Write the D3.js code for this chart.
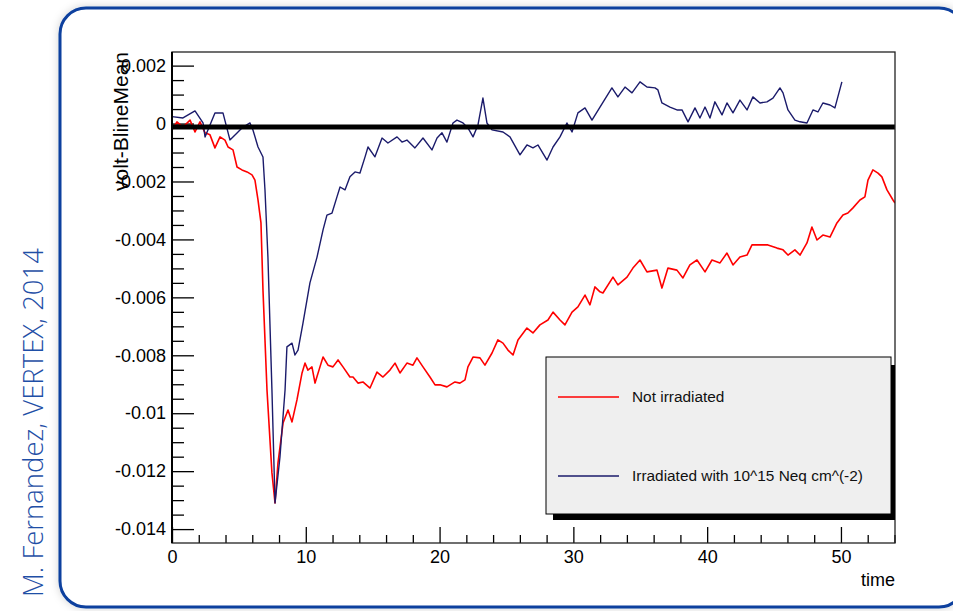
<!DOCTYPE html>
<html>
<head>
<meta charset="utf-8">
<script src="https://cdn.jsdelivr.net/npm/d3@7"></script>
<style>
  body { margin: 0; background: #fff; }
  svg { display: block; }
  text { font-family: "Liberation Sans", Arial, sans-serif; }
</style>
</head>
<body>
<div id="viz"></div>
<script>
// irradiated sensor (blue): time / volt-BlineMean
const irrTime = [0, 0.82, 1.72, 2.32, 2.47, 3.21, 3.81, 4.33, 4.86, 5.23,
  5.83, 6.05, 6.43, 6.80, 6.95, 7.17, 7.47, 7.70, 8.07, 8.45,
  8.59, 8.97, 9.19, 9.42, 9.79, 10.31, 10.84, 11.29, 11.58, 11.96,
  12.33, 12.56, 12.93, 13.30, 13.68, 14.05, 14.43, 14.65, 15.17, 15.70,
  16.14, 16.82, 17.19, 17.56, 18.16, 18.76, 19.43, 19.81, 20.18, 20.55,
  21.00, 21.30, 21.75, 22.12, 22.50, 22.87, 23.24, 23.54, 23.92, 24.74,
  25.26, 26.01, 26.53, 26.98, 27.35, 28.03, 28.48, 29.00, 29.52, 29.90,
  30.34, 30.87, 31.39, 31.99, 32.88, 33.33, 33.86, 34.38, 34.98, 35.50,
  36.10, 36.32, 36.62, 37.22, 37.74, 38.12, 38.57, 39.09, 39.46, 39.84,
  40.21, 40.58, 41.11, 41.48, 41.93, 42.45, 42.98, 43.42, 43.95, 44.47,
  44.92, 45.44, 45.67, 46.04, 46.56, 46.94, 47.46, 47.91, 48.28, 48.65,
  49.18, 49.55, 50.07];
const irrVolt = [0.000238, 0.000193, 0.000435, 0.000021, -0.000463, 0.000366, 0.000366, -0.000566, -0.000325, -0.000152,
  0.000021, -0.000221, -0.000808, -0.001153, -0.002293, -0.004607, -0.009199, -0.01310, -0.01151, -0.00920,
  -0.00771, -0.00758, -0.00799, -0.00782, -0.00689, -0.00550, -0.00461, -0.00367, -0.00316, -0.00309,
  -0.00253, -0.00219, -0.00229, -0.00184, -0.00167, -0.00171, -0.00115, -0.00081, -0.00115, -0.00050,
  -0.00067, -0.00046, -0.00064, -0.00057, -0.00084, -0.00050, -0.00091, -0.00050, -0.00032, -0.00064,
  0.00002, 0.00012, 0.00002, -0.00015, -0.00046, -0.00005, 0.00088, 0.00002, -0.00022, -0.00029,
  -0.00046, -0.00108, -0.00074, -0.00084, -0.00074, -0.00126, -0.00081, -0.00046, 0.00002, -0.00029,
  0.00037, 0.00054, 0.00012, 0.00057, 0.00123, 0.00092, 0.00126, 0.00106, 0.00144, 0.00126,
  0.00123, 0.00116, 0.00071, 0.00057, 0.00047, 0.00047, 0.00006, 0.00054, 0.00019, 0.00057,
  0.00019, 0.00075, 0.00030, 0.00071, 0.00037, 0.00081, 0.00047, 0.00092, 0.00071, 0.00075,
  0.00088, 0.00123, 0.00106, 0.00047, 0.00012, 0.00006, 0.00002, 0.00047, 0.00040, 0.00071,
  0.00064, 0.00054, 0.00144];

// not irradiated sensor (red)
const notTime = [0, 0.37, 0.82, 1.35, 1.72, 2.09, 2.47, 2.84, 3.21, 3.59,
  3.96, 4.19, 4.56, 4.86, 5.23, 5.61, 5.98, 6.20, 6.43, 6.65,
  6.80, 7.10, 7.47, 7.70, 7.92, 8.30, 8.67, 8.97, 9.34, 9.72,
  9.94, 10.16, 10.46, 10.69, 11.06, 11.29, 11.66, 12.03, 12.41, 12.78,
  13.30, 13.53, 13.90, 14.27, 14.80, 15.32, 15.77, 16.29, 16.67, 17.04,
  17.56, 18.01, 18.31, 18.76, 19.28, 19.66, 20.03, 20.55, 21.15, 21.52,
  21.90, 22.12, 22.50, 23.02, 23.39, 23.92, 24.36, 24.74, 25.11, 25.49,
  25.86, 26.53, 26.98, 27.50, 28.10, 28.48, 29.00, 29.37, 29.90, 30.34,
  30.87, 31.24, 31.61, 31.99, 32.21, 32.96, 33.33, 34.01, 34.45, 34.98,
  35.50, 36.25, 36.62, 37.07, 37.74, 38.19, 38.71, 39.24, 39.84, 40.36,
  40.96, 41.48, 41.93, 42.45, 42.98, 43.35, 43.95, 44.54, 45.22, 45.67,
  46.04, 46.56, 46.94, 47.46, 47.83, 48.21, 48.65, 49.18, 49.70, 50.15,
  50.52, 50.90, 51.42, 51.79, 52.02, 52.39, 52.77, 53.06, 53.44, 53.89,
  54.04];
const notVolt = [-0.00022, 0.00006, -0.00012, 0.00012, -0.00029, 0.00006, -0.00032, -0.00039, -0.00084, -0.00046,
  -0.00057, -0.00081, -0.00091, -0.00150, -0.00160, -0.00167, -0.00177, -0.00195, -0.00264, -0.00343,
  -0.00575, -0.00920, -0.01206, -0.01310, -0.01172, -0.01034, -0.00989, -0.01030, -0.00954, -0.00861,
  -0.00827, -0.00851, -0.00840, -0.00896, -0.00840, -0.00806, -0.00834, -0.00840, -0.00816, -0.00840,
  -0.00875, -0.00875, -0.00896, -0.00892, -0.00913, -0.00858, -0.00875, -0.00851, -0.00827, -0.00861,
  -0.00827, -0.00834, -0.00809, -0.00840, -0.00875, -0.00902, -0.00902, -0.00909, -0.00892, -0.00896,
  -0.00885, -0.00840, -0.00806, -0.00809, -0.00834, -0.00792, -0.00747, -0.00758, -0.00782, -0.00799,
  -0.00747, -0.00706, -0.00723, -0.00695, -0.00678, -0.00651, -0.00678, -0.00695, -0.00651, -0.00633,
  -0.00592, -0.00626, -0.00564, -0.00581, -0.00585, -0.00530, -0.00557, -0.00530, -0.00499, -0.00471,
  -0.00512, -0.00506, -0.00568, -0.00499, -0.00506, -0.00533, -0.00488, -0.00471, -0.00512, -0.00471,
  -0.00481, -0.00447, -0.00488, -0.00461, -0.00454, -0.00419, -0.00419, -0.00419, -0.00430, -0.00436,
  -0.00454, -0.00436, -0.00454, -0.00412, -0.00357, -0.00402, -0.00385, -0.00392, -0.00343, -0.00316,
  -0.00309, -0.00291, -0.00264, -0.00253, -0.00195, -0.00160, -0.00171, -0.00184, -0.00229, -0.00264,
  -0.00274];

const yTicks = [0.002, 0, -0.002, -0.004, -0.006, -0.008, -0.01, -0.012, -0.014];
const yTickLabels = ["0.002", "0", "-0.002", "-0.004", "-0.006", "-0.008", "-0.01", "-0.012", "-0.014"];
const xTicks = [0, 10, 20, 30, 40, 50];
const xTickLabels = ["0", "10", "20", "30", "40", "50"];
const legendLabels = ["Not irradiated", "Irradiated with 10^15 Neq cm^(-2)"];
const seriesColors = ["#ff0000", "#1b1b6b"];
const zeroLineLevel = -0.00012; // thick reference line, sits just under 0 in the picture

var W = 953, H = 611;
var margin = { top: 52, right: 58, bottom: 68, left: 172 },
  width = W - margin.left - margin.right,
  height = H - margin.top - margin.bottom;

var svg = d3.select("#viz").append("svg")
  .attr("width", W)
  .attr("height", H);

// soft shadow for the slide frame
var defs = svg.append("defs");
var f = defs.append("filter").attr("id", "shadow")
  .attr("x", "-5%").attr("y", "-5%").attr("width", "110%").attr("height", "110%");
f.append("feDropShadow").attr("dx", 0).attr("dy", 0)
  .attr("stdDeviation", 4).attr("flood-color", "#000").attr("flood-opacity", 0.18);

svg.append("rect")
  .attr("x", 60).attr("y", 8)
  .attr("width", 905).attr("height", 599)
  .attr("rx", 26).attr("ry", 26)
  .attr("fill", "#fff")
  .attr("stroke", "#0b3f9e")
  .attr("stroke-width", 3)
  .attr("filter", "url(#shadow)");

// credit text on the left
svg.append("text")
  .attr("transform", "translate(43,597) rotate(-90)")
  .style("font-family", "'Open Sans', sans-serif")
  .style("font-size", "27.5px")
  .style("font-weight", 300)
  .attr("fill", "#1f4fa6")
  .text("M. Fernandez, VERTEX, 2014");

var g = svg.append("g")
  .attr("transform", "translate(" + margin.left + "," + margin.top + ")");

var x = d3.scaleLinear().domain([0, 54.04]).range([0, width]);
var y = d3.scaleLinear().domain([-0.01448, 0.00247]).range([height, 0]);

// minor ticks
var yMinor = d3.range(-29, 5).map(i => i * 0.0005)
  .filter(v => Math.abs(Math.round(v / 0.0005)) % 4 !== 0)
  .filter(v => v >= y.domain()[0] && v <= y.domain()[1]);
var xMinor = d3.range(0, 55, 2).filter(v => v % 10 !== 0 && v <= x.domain()[1]);

g.append("g").attr("class", "y minor")
  .call(d3.axisLeft(y).tickValues(yMinor).tickSize(-12).tickFormat(""))
  .call(s => s.select(".domain").remove());
g.append("g").attr("class", "x minor")
  .attr("transform", "translate(0," + height + ")")
  .call(d3.axisBottom(x).tickValues(xMinor).tickSize(-8).tickFormat(""))
  .call(s => s.select(".domain").remove());

// major ticks + labels
g.append("g").attr("class", "y axis")
  .call(d3.axisLeft(y).tickValues(yTicks).tickSize(-22).tickPadding(6)
    .tickFormat((d, i) => yTickLabels[i]))
  .call(s => s.select(".domain").remove())
  .call(s => s.selectAll("text").style("font-size", "18px").style("font-family", "'Liberation Sans', Arial, sans-serif").attr("fill", "#000"));
g.append("g").attr("class", "x axis")
  .attr("transform", "translate(0," + height + ")")
  .call(d3.axisBottom(x).tickValues(xTicks).tickSize(-16).tickPadding(7)
    .tickFormat((d, i) => xTickLabels[i]))
  .call(s => s.select(".domain").remove())
  .call(s => s.selectAll("text").style("font-size", "18px").style("font-family", "'Liberation Sans', Arial, sans-serif").attr("fill", "#000"));

g.selectAll(".tick line").attr("stroke", "#000").attr("stroke-width", 1.3);

// axis titles
g.append("text")
  .attr("x", width)
  .attr("y", height + 43)
  .style("text-anchor", "end")
  .style("font-size", "18px")
  .text("time");

g.append("text")
  .attr("transform", "translate(-44,0) rotate(-90)")
  .style("text-anchor", "end")
  .style("font-size", "21px")
  .text("volt-BlineMean");

// curves
var clip = defs.append("clipPath").attr("id", "plotclip");
clip.append("rect").attr("width", width).attr("height", height);

var line = d3.line()
  .x(d => x(d[0]))
  .y(d => y(d[1]));

var notData = notTime.map((t, i) => [t, notVolt[i]]);
var irrData = irrTime.map((t, i) => [t, irrVolt[i]]);

var curves = g.append("g").attr("clip-path", "url(#plotclip)");
curves.append("path")
  .datum(notData)
  .attr("fill", "none")
  .attr("stroke", seriesColors[0])
  .attr("stroke-width", 1.6)
  .attr("stroke-linejoin", "round")
  .attr("d", line);
curves.append("path")
  .datum(irrData)
  .attr("fill", "none")
  .attr("stroke", seriesColors[1])
  .attr("stroke-width", 1.4)
  .attr("stroke-linejoin", "round")
  .attr("d", line);

// thick zero line
g.append("line")
  .attr("x1", x(x.domain()[0])).attr("x2", x(x.domain()[1]))
  .attr("y1", y(zeroLineLevel)).attr("y2", y(zeroLineLevel))
  .attr("stroke", "#000")
  .attr("stroke-width", 5);

// plot frame
g.append("rect")
  .attr("width", width).attr("height", height)
  .attr("fill", "none")
  .attr("stroke", "#222")
  .attr("stroke-width", 1.3);
g.append("line")
  .attr("x1", 0).attr("x2", 0).attr("y1", 0).attr("y2", height)
  .attr("stroke", "#000").attr("stroke-width", 2);

// legend
var lg = g.append("g").attr("transform", "translate(" + (width - 349) + "," + (height - 186) + ")");
lg.append("rect")
  .attr("x", 7).attr("y", 8)
  .attr("width", 342).attr("height", 155)
  .attr("fill", "#000");
lg.append("rect")
  .attr("x", 0).attr("y", 0)
  .attr("width", 345).attr("height", 157)
  .attr("fill", "#efefef")
  .attr("stroke", "#000")
  .attr("stroke-width", 1);

var item = lg.selectAll(".legend")
  .data(legendLabels)
  .enter().append("g")
  .attr("class", "legend")
  .attr("transform", (d, i) => "translate(0," + (40 + i * 79) + ")");
item.append("line")
  .attr("x1", 12).attr("x2", 73)
  .attr("stroke", (d, i) => seriesColors[i])
  .attr("stroke-width", 1.4);
item.append("text")
  .attr("x", 86)
  .attr("y", 0)
  .attr("dy", ".35em")
  .style("font-size", "15.4px")
  .attr("fill", "#111")
  .text(d => d);
</script>
</body>
</html>
